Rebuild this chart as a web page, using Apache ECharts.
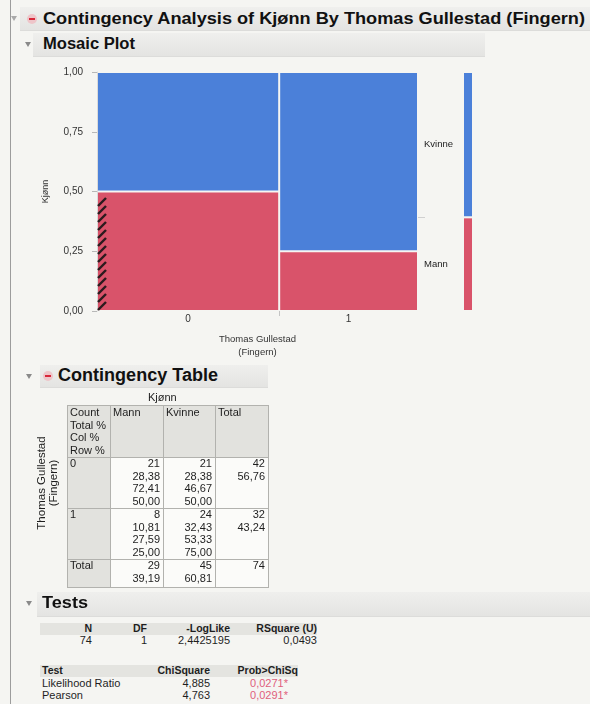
<!DOCTYPE html>
<html><head><meta charset="utf-8">
<script src="https://cdn.jsdelivr.net/npm/echarts@6.0.0/dist/echarts.min.js"></script>
<style>
body{margin:0;width:590px;height:704px;background:#f5f5f2;overflow:hidden;font-family:"Liberation Sans",Arial,sans-serif;color:#1e1e1e;position:relative}
.abs{position:absolute;white-space:nowrap}
.bar{position:absolute;background:linear-gradient(#efefed,#e4e4e2);border-bottom:1px solid #dcdcda}
.tri{position:absolute;width:0;height:0;border-left:3.5px solid transparent;border-right:3.5px solid transparent;border-top:5px solid #8a8a8a}
.minus{position:absolute;width:10px;height:10px;border-radius:50%;background:#eec5c9}
.minus:after{content:"";position:absolute;left:2px;top:4px;width:6px;height:2px;background:#d8283a}
.hdr{position:absolute;white-space:nowrap;font-weight:bold;color:#111;transform-origin:0 50%}
.cell{position:absolute;box-sizing:border-box;border:1px solid #b2b2ae}
.t{position:absolute;white-space:nowrap;font-size:11px;line-height:12.6px}
#chart{position:absolute;left:0;top:57px;width:590px;height:310px}
</style></head>
<body>
<div class="abs" style="left:10px;top:0;width:1px;height:704px;background:#9c9c9c"></div>

<div class="bar" style="left:20px;top:7px;width:570px;height:23px"></div>
<div class="tri" style="left:11px;top:16px;border-top-color:#aaa"></div>
<div class="minus" style="left:27px;top:14px"></div>
<div class="hdr" id="title" style="left:43px;top:9px;font-size:17px">Contingency Analysis of Kjønn By Thomas Gullestad (Fingern)</div>

<div class="bar" style="left:33px;top:33px;width:452px;height:23px"></div>
<div class="tri" style="left:25px;top:42px"></div>
<div class="hdr" id="mosaicHdr" style="left:43px;top:35px;font-size:16px">Mosaic Plot</div>

<div id="chart"></div>

<div class="bar" style="left:40px;top:365px;width:228px;height:22px"></div>
<div class="tri" style="left:26px;top:374px"></div>
<div class="minus" style="left:43px;top:371px"></div>
<div class="hdr" id="ctHdr" style="left:58px;top:365px;font-size:18px">Contingency Table</div>
<div id="ctable"></div>

<div class="bar" style="left:37px;top:592px;width:553px;height:24px"></div>
<div class="tri" style="left:26px;top:601px"></div>
<div class="hdr" id="testsHdr" style="left:42px;top:594px;font-size:16px">Tests</div>
<div id="tests"></div>

<script>
// ---------- data ----------
const groups = ['0', '1'];                       // Thomas Gullestad (Fingern)
const levels = ['Mann', 'Kvinne'];               // Kjønn
const mannCounts = [21, 8];
const kvinneCounts = [21, 24];
const yTickValues = [0, 0.25, 0.5, 0.75, 1];
const summaryHeads = ['N', 'DF', '-LogLike', 'RSquare (U)'];
const summaryValues = ['74', '1', '2,4425195', '0,0493'];
const testHeads = ['Test', 'ChiSquare', 'Prob>ChiSq'];
const testNames = ['Likelihood Ratio', 'Pearson'];
const chiSquares = ['4,885', '4,763'];
const probs = ['0,0271*', '0,0291*'];

// ---------- styles ----------
const levelColors = ['#d9536a', '#4b80d9'];
const comma = v => v.toFixed(2).replace('.', ',');

// ---------- derived ----------
const counts = [mannCounts, kvinneCounts];       // [level][group]
const colTotals = groups.map((g, i) => mannCounts[i] + kvinneCounts[i]);
const levelTotals = counts.map(a => a.reduce((s, v) => s + v, 0));
const grand = colTotals.reduce((s, v) => s + v, 0);

const cells = [];
const colCenters = [], colBounds = [];
let cx = 0;
groups.forEach((g, gi) => {
  const w = colTotals[gi] / grand;
  colCenters.push(cx + w / 2);
  let cy = 0;
  levels.forEach((l, li) => {
    const h = counts[li][gi] / colTotals[gi];
    cells.push([cx, cx + w, cy, cy + h, li, gi]);
    cy += h;
  });
  cx += w;
  if (gi < groups.length - 1) colBounds.push(cx);
});
const margCells = [], margCenters = [], margBounds = [];
let my = 0;
levels.forEach((l, li) => {
  const h = levelTotals[li] / grand;
  margCells.push([0, 1, my, my + h, li, -1]);
  margCenters.push(my + h / 2);
  my += h;
  if (li < levels.length - 1) margBounds.push(my);
});
const nearestIdx = (arr, v) => { let b = 0; arr.forEach((a, i) => { if (Math.abs(a - v) < Math.abs(arr[b] - v)) b = i; }); return b; };

function renderCell(params, api) {
  const p0 = api.coord([api.value(0), api.value(3)]);
  const p1 = api.coord([api.value(1), api.value(2)]);
  const x = p0[0] + 1, y = p0[1] + 1, w = p1[0] - p0[0] - 2, h = p1[1] - p0[1] - 2;
  const li = api.value(4), gi = api.value(5);
  const children = [{ type: 'rect', shape: { x, y, width: w, height: h }, style: { fill: levelColors[li] } }];
  if (gi === 0 && li === 0) {
    const hw = 8;
    for (let yb = y + h; yb - hw >= y - 1; yb -= 8) {
      children.push({ type: 'line', shape: { x1: x, y1: yb, x2: x + hw, y2: yb - hw },
        style: { stroke: '#2a1a1e', lineWidth: 2.4 } });
    }
  }
  return { type: 'group', children };
}

const axisText = { color: '#333', fontSize: 10, fontFamily: 'Liberation Sans' };
const chart = echarts.init(document.getElementById('chart'), null, { renderer: 'canvas' });
chart.setOption({
  animation: false,
  backgroundColor: 'transparent',
  grid: [
    { left: 97, top: 15, width: 321, height: 239 },
    { left: 463, top: 15, width: 10, height: 239 }
  ],
  xAxis: [
    { gridIndex: 0, type: 'value', min: 0, max: 1,
      axisLine: { show: false }, splitLine: { show: false },
      axisTick: { show: true, customValues: colBounds, length: 5, lineStyle: { color: '#c4c4c4' } },
      axisLabel: { customValues: colCenters, formatter: v => groups[nearestIdx(colCenters, v)], margin: 3, ...axisText },
      name: 'Thomas Gullestad\n(Fingern)', nameLocation: 'middle', nameGap: 22,
      nameTextStyle: { color: '#333', fontSize: 9.5, lineHeight: 13, fontFamily: 'Liberation Sans' } },
    { gridIndex: 1, type: 'value', min: 0, max: 1, show: false }
  ],
  yAxis: [
    { gridIndex: 0, type: 'value', min: 0, max: 1, interval: 0.25,
      axisLine: { show: true, lineStyle: { color: '#dadada' } }, splitLine: { show: false },
      axisTick: { show: true, length: 5, lineStyle: { color: '#b8b8b8' } },
      axisLabel: { formatter: v => comma(v), margin: 14, ...axisText },
      name: 'Kjønn', nameLocation: 'middle', nameGap: 47, nameRotate: 90,
      nameTextStyle: { color: '#333', fontSize: 9, fontFamily: 'Liberation Sans' } },
    { gridIndex: 0, type: 'value', min: 0, max: 1, position: 'right',
      axisLine: { show: false }, splitLine: { show: false },
      axisTick: { show: true, customValues: margBounds, length: 7, lineStyle: { color: '#d0d0d0' } },
      axisLabel: { customValues: margCenters, formatter: v => levels[nearestIdx(margCenters, v)], margin: 6, color: '#222', fontSize: 9.5, fontFamily: 'Liberation Sans' } },
    { gridIndex: 1, type: 'value', min: 0, max: 1, show: false }
  ],
  series: [
    { type: 'custom', xAxisIndex: 0, yAxisIndex: 0, renderItem: renderCell, data: cells, clip: false },
    { type: 'custom', xAxisIndex: 1, yAxisIndex: 2, renderItem: renderCell, data: margCells, clip: false }
  ]
});

// ---------- contingency table (HTML) ----------
const ct = document.getElementById('ctable');
function add(parent, cls, css, text) {
  const d = document.createElement('div'); d.className = cls; d.style.cssText = css;
  if (text !== undefined) d.innerHTML = text; parent.appendChild(d); return d;
}
const colX = [67, 110, 163, 215, 268];
const rowY = [405, 457, 508, 559, 587];
const grey = '#e2e2de', white = '#fbfbf9';
for (let r = 0; r < 4; r++) for (let c = 0; c < 4; c++) {
  let bg = (r === 0 || c === 0) ? grey : white;
  if (r === 3 && c === 3) bg = white;
  add(ct, 'cell', `left:${colX[c]}px;top:${rowY[r]}px;width:${colX[c+1]-colX[c]+1}px;height:${rowY[r+1]-rowY[r]+1}px;background:${bg}`);
}
add(ct, 't', `left:148px;top:391px;font-size:11px`, 'Kjønn');
add(ct, 't', `left:${colX[0]+3}px;top:${rowY[0]+1}px`, 'Count<br>Total %<br>Col %<br>Row %');
levels.concat(['Total']).forEach((h, i) => add(ct, 't', `left:${colX[i+1]+3}px;top:${rowY[0]+1}px`, h));
groups.forEach((g, gi) => {
  const top = rowY[gi + 1];
  add(ct, 't', `left:${colX[0]+3}px;top:${top}px`, g);
  levels.forEach((l, li) => {
    const n = counts[li][gi];
    const lines = [String(n), comma(100 * n / grand), comma(100 * n / levelTotals[li]), comma(100 * n / colTotals[gi])];
    add(ct, 't', `right:${590 - colX[li+2] + 3}px;top:${top}px;text-align:right`, lines.join('<br>'));
  });
  add(ct, 't', `right:${590 - colX[4] + 3}px;top:${top}px;text-align:right`, colTotals[gi] + '<br>' + comma(100 * colTotals[gi] / grand));
});
add(ct, 't', `left:${colX[0]+3}px;top:${rowY[3]}px`, 'Total');
levels.forEach((l, li) => add(ct, 't', `right:${590 - colX[li+2] + 3}px;top:${rowY[3]}px;text-align:right`, levelTotals[li] + '<br>' + comma(100 * levelTotals[li] / grand)));
add(ct, 't', `right:${590 - colX[4] + 3}px;top:${rowY[3]}px;text-align:right`, String(grand));
add(ct, 't', `left:47px;top:483px;transform:translate(-50%,-50%) rotate(-90deg);font-size:11.5px;line-height:12px;text-align:center`, 'Thomas Gullestad<br>(Fingern)');

// ---------- tests (HTML) ----------
const ts = document.getElementById('tests');
add(ts, 'cell', 'left:40px;top:623px;width:277px;height:12px;background:#e4e4e0;border:none');
const sumRight = [92, 147, 230, 317];
summaryHeads.forEach((h, i) => add(ts, 't', `right:${590 - sumRight[i]}px;top:622px;font-size:10.5px;font-weight:bold`, h));
summaryValues.forEach((v, i) => add(ts, 't', `right:${590 - sumRight[i]}px;top:634px;font-size:11px`, v));
add(ts, 'cell', 'left:40px;top:665px;width:258px;height:12px;background:#e4e4e0;border:none');
add(ts, 't', 'left:42px;top:664px;font-size:10.5px;font-weight:bold', testHeads[0]);
add(ts, 't', 'right:380px;top:664px;font-size:10.5px;font-weight:bold', testHeads[1]);
add(ts, 't', 'right:292px;top:664px;font-size:10.5px;font-weight:bold', testHeads[2]);
testNames.forEach((n, i) => {
  const top = 677 + i * 12;
  add(ts, 't', `left:42px;top:${top}px;font-size:11px`, n);
  add(ts, 't', `right:380px;top:${top}px;font-size:11px`, chiSquares[i]);
  add(ts, 't', `right:302px;top:${top}px;font-size:11px;color:#e0607c`, probs[i]);
});

// fit header widths
function fit(id, w) { const e = document.getElementById(id); const s = w / e.getBoundingClientRect().width; e.style.transform = `scaleX(${s})`; }
fit('title', 542); fit('mosaicHdr', 92); fit('ctHdr', 160); fit('testsHdr', 46);
</script>
</body></html>
